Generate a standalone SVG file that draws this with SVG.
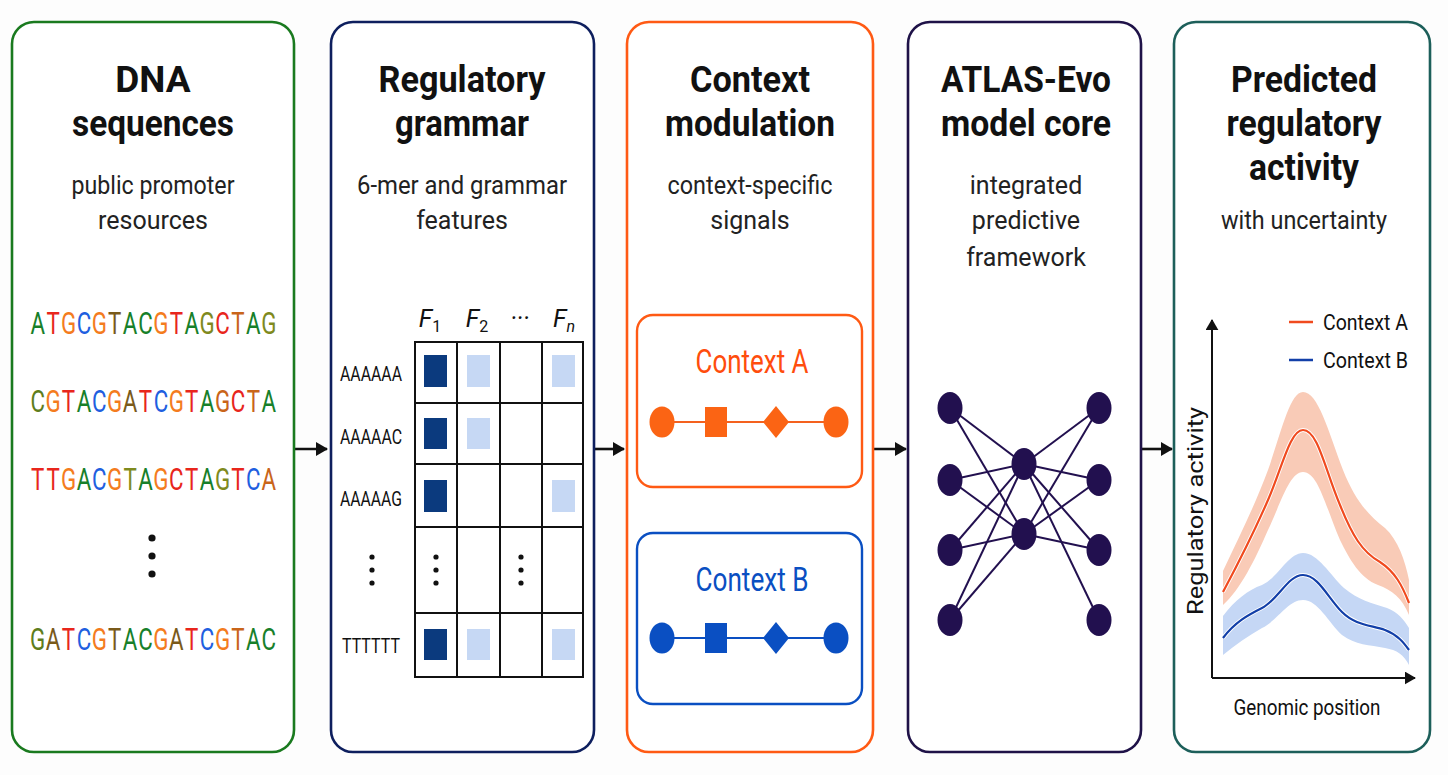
<svg xmlns="http://www.w3.org/2000/svg" width="1448" height="775" viewBox="0 0 1448 775">
<style>
.panel{fill:#fff;stroke-width:2.6}
.title{font-family:Roboto,"Liberation Sans",sans-serif;font-weight:bold;font-size:37px;fill:#111;text-anchor:middle}
.sub{font-family:Roboto,"Liberation Sans",sans-serif;font-size:25px;fill:#222;text-anchor:middle}
.seq{font-family:Roboto,"Liberation Sans",sans-serif;font-size:31px;text-anchor:middle}
.lab{font-family:Roboto,"Liberation Sans",sans-serif;font-size:20px;fill:#111;text-anchor:middle}
.hdr{font-family:Roboto,"Liberation Sans",sans-serif;font-style:italic;font-size:25px;fill:#111;text-anchor:middle}
.cell{fill:#fff;stroke:#111;stroke-width:2}
.dk{fill:#0b3a7e}
.lt{fill:#c6d8f4}
.ctx{font-family:Roboto,"Liberation Sans",sans-serif;font-size:33px;text-anchor:middle}
.nn{fill:#22104f}
.ne{stroke:#22104f;stroke-width:2}
.leg{font-family:Roboto,"Liberation Sans",sans-serif;font-size:22px;fill:#111}
.arr{stroke:#111;stroke-width:2.6}
.g{fill:#17802a}.r{fill:#e8261c}.o{fill:#f47c1e}.b{fill:#1f5fe0}.ol{fill:#7f8a1e}.br{fill:#7a5a1a}.ob{fill:#c9651a}.og{fill:#5e7d1c}
</style>
<defs>
<marker id="ah" viewBox="0 0 12 14" refX="11" refY="7" markerWidth="12" markerHeight="14" markerUnits="userSpaceOnUse" orient="auto">
<path d="M0,0 L12,7 L0,14 Z" fill="#111"/>
</marker>
<marker id="axh" viewBox="0 0 12 14" refX="11" refY="7" markerWidth="11" markerHeight="13" markerUnits="userSpaceOnUse" orient="auto">
<path d="M0,0 L12,7 L0,14 Z" fill="#111"/>
</marker>
</defs>
<rect width="1448" height="775" fill="#fdfdfd"/>

<g id="connectors">
<line class="arr" x1="294" y1="449" x2="327" y2="449" marker-end="url(#ah)"/>
<line class="arr" x1="594" y1="449" x2="624" y2="449" marker-end="url(#ah)"/>
<line class="arr" x1="873" y1="449" x2="906" y2="449" marker-end="url(#ah)"/>
<line class="arr" x1="1141" y1="449" x2="1172" y2="449" marker-end="url(#ah)"/>
</g>

<g id="dna-sequences">
<rect class="panel" x="12" y="22" width="282" height="730" rx="22" stroke="#1a7a1f"/>
<text class="title" x="153" y="92">DNA</text>
<text class="title" x="153" y="136" textLength="162" lengthAdjust="spacingAndGlyphs">sequences</text>
<text class="sub" x="153" y="194" textLength="163" lengthAdjust="spacingAndGlyphs">public promoter</text>
<text class="sub" x="153" y="229">resources</text>
<g transform="translate(30,0) scale(0.72,1)">
<text class="seq" x="10.7 32.1 53.5 74.9 96.3 117.6 139.0 160.4 181.8 203.2 224.6 246.0 267.4 288.8 310.2 331.6" y="334"><tspan class="g">A</tspan><tspan class="r">T</tspan><tspan class="o">G</tspan><tspan class="b">C</tspan><tspan class="o">G</tspan><tspan class="br">T</tspan><tspan class="g">A</tspan><tspan class="g">C</tspan><tspan class="o">G</tspan><tspan class="r">T</tspan><tspan class="g">A</tspan><tspan class="ol">G</tspan><tspan class="r">C</tspan><tspan class="ob">T</tspan><tspan class="g">A</tspan><tspan class="ol">G</tspan></text>
<text class="seq" x="10.7 32.1 53.5 74.9 96.3 117.6 139.0 160.4 181.8 203.2 224.6 246.0 267.4 288.8 310.2 331.6" y="412"><tspan class="og">C</tspan><tspan class="o">G</tspan><tspan class="r">T</tspan><tspan class="g">A</tspan><tspan class="b">C</tspan><tspan class="o">G</tspan><tspan class="br">A</tspan><tspan class="r">T</tspan><tspan class="b">C</tspan><tspan class="o">G</tspan><tspan class="r">T</tspan><tspan class="g">A</tspan><tspan class="ob">G</tspan><tspan class="r">C</tspan><tspan class="ob">T</tspan><tspan class="g">A</tspan></text>
<text class="seq" x="10.7 32.1 53.5 74.9 96.3 117.6 139.0 160.4 181.8 203.2 224.6 246.0 267.4 288.8 310.2 331.6" y="490"><tspan class="r">T</tspan><tspan class="r">T</tspan><tspan class="o">G</tspan><tspan class="g">A</tspan><tspan class="b">C</tspan><tspan class="o">G</tspan><tspan class="ol">T</tspan><tspan class="g">A</tspan><tspan class="o">G</tspan><tspan class="r">C</tspan><tspan class="r">T</tspan><tspan class="g">A</tspan><tspan class="ol">G</tspan><tspan class="r">T</tspan><tspan class="b">C</tspan><tspan class="ob">A</tspan></text>
<text class="seq" x="10.7 32.1 53.5 74.9 96.3 117.6 139.0 160.4 181.8 203.2 224.6 246.0 267.4 288.8 310.2 331.6" y="650"><tspan class="og">G</tspan><tspan class="br">A</tspan><tspan class="r">T</tspan><tspan class="b">C</tspan><tspan class="o">G</tspan><tspan class="br">T</tspan><tspan class="g">A</tspan><tspan class="g">C</tspan><tspan class="o">G</tspan><tspan class="br">A</tspan><tspan class="r">T</tspan><tspan class="b">C</tspan><tspan class="o">G</tspan><tspan class="ob">T</tspan><tspan class="g">A</tspan><tspan class="g">C</tspan></text>
</g>
<circle cx="152" cy="538" r="3.6" fill="#111"/>
<circle cx="152" cy="556" r="3.6" fill="#111"/>
<circle cx="152" cy="574" r="3.6" fill="#111"/>
</g>

<g id="regulatory-grammar">
<rect class="panel" x="331" y="22" width="263" height="730" rx="22" stroke="#0e1f5e"/>
<text class="title" x="462" y="92" textLength="167" lengthAdjust="spacingAndGlyphs">Regulatory</text>
<text class="title" x="462" y="136" textLength="134" lengthAdjust="spacingAndGlyphs">grammar</text>
<text class="sub" x="462" y="194" textLength="210" lengthAdjust="spacingAndGlyphs">6-mer and grammar</text>
<text class="sub" x="462" y="229">features</text>
<text class="hdr" x="430" y="327">F<tspan font-size="16" font-style="normal" dy="5">1</tspan></text>
<text class="hdr" x="477" y="327">F<tspan font-size="16" font-style="normal" dy="5">2</tspan></text>
<text class="hdr" x="520" y="327">···</text>
<text class="hdr" x="564" y="327">F<tspan font-size="16" dy="5">n</tspan></text>
<g>
<rect class="cell" x="415" y="342" width="42" height="61"/><rect class="cell" x="457" y="342" width="43" height="61"/><rect class="cell" x="500" y="342" width="42" height="61"/><rect class="cell" x="542" y="342" width="41" height="61"/>
<rect class="cell" x="415" y="403" width="42" height="61"/><rect class="cell" x="457" y="403" width="43" height="61"/><rect class="cell" x="500" y="403" width="42" height="61"/><rect class="cell" x="542" y="403" width="41" height="61"/>
<rect class="cell" x="415" y="464" width="42" height="63"/><rect class="cell" x="457" y="464" width="43" height="63"/><rect class="cell" x="500" y="464" width="42" height="63"/><rect class="cell" x="542" y="464" width="41" height="63"/>
<rect class="cell" x="415" y="527" width="42" height="86"/><rect class="cell" x="457" y="527" width="43" height="86"/><rect class="cell" x="500" y="527" width="42" height="86"/><rect class="cell" x="542" y="527" width="41" height="86"/>
<rect class="cell" x="415" y="613" width="42" height="64"/><rect class="cell" x="457" y="613" width="43" height="64"/><rect class="cell" x="500" y="613" width="42" height="64"/><rect class="cell" x="542" y="613" width="41" height="64"/>
</g>
<rect class="dk" x="424" y="355" width="23" height="32"/><rect class="lt" x="467" y="355" width="23" height="32"/><rect class="lt" x="552" y="355" width="23" height="32"/>
<rect class="dk" x="424" y="418" width="23" height="31"/><rect class="lt" x="467" y="418" width="23" height="31"/>
<rect class="dk" x="424" y="480" width="23" height="32"/><rect class="lt" x="552" y="480" width="23" height="32"/>
<rect class="dk" x="424" y="629" width="23" height="31"/><rect class="lt" x="467" y="629" width="23" height="31"/><rect class="lt" x="552" y="629" width="23" height="31"/>
<text class="lab" x="371" y="381" textLength="62" lengthAdjust="spacingAndGlyphs">AAAAAA</text>
<text class="lab" x="371" y="444" textLength="62" lengthAdjust="spacingAndGlyphs">AAAAAC</text>
<text class="lab" x="371" y="506" textLength="62" lengthAdjust="spacingAndGlyphs">AAAAAG</text>
<text class="lab" x="371" y="653" textLength="58" lengthAdjust="spacingAndGlyphs">TTTTTT</text>
<g fill="#111">
<circle cx="372" cy="557" r="2.6"/><circle cx="372" cy="570" r="2.6"/><circle cx="372" cy="583" r="2.6"/>
<circle cx="436" cy="557" r="2.6"/><circle cx="436" cy="570" r="2.6"/><circle cx="436" cy="583" r="2.6"/>
<circle cx="521" cy="557" r="2.6"/><circle cx="521" cy="570" r="2.6"/><circle cx="521" cy="583" r="2.6"/>
</g>
</g>

<g id="context-modulation">
<rect class="panel" x="627" y="22" width="246" height="730" rx="22" stroke="#ff5a14"/>
<text class="title" x="750" y="92" textLength="120" lengthAdjust="spacingAndGlyphs">Context</text>
<text class="title" x="750" y="136" textLength="170" lengthAdjust="spacingAndGlyphs">modulation</text>
<text class="sub" x="750" y="194" textLength="165" lengthAdjust="spacingAndGlyphs">context-specific</text>
<text class="sub" x="750" y="229">signals</text>
<rect x="637" y="315" width="225" height="172" rx="16" fill="#fff" stroke="#ff5a14" stroke-width="2.4"/>
<text class="ctx" x="752" y="373" fill="#ff4d0d" textLength="113" lengthAdjust="spacingAndGlyphs">Context A</text>
<line x1="662" y1="422" x2="836" y2="422" stroke="#f4611e" stroke-width="2.2"/>
<ellipse cx="662" cy="422" rx="12.5" ry="15.5" fill="#fb6414"/>
<rect x="705" y="407" width="22" height="30" fill="#fb6414"/>
<path d="M776,406 L789,422 L776,438 L763,422 Z" fill="#fb6414"/>
<ellipse cx="836" cy="422" rx="12.5" ry="15.5" fill="#fb6414"/>
<rect x="637" y="533" width="225" height="171" rx="16" fill="#fff" stroke="#0a4fc2" stroke-width="2.4"/>
<text class="ctx" x="752" y="591" fill="#0a4fc2" textLength="113" lengthAdjust="spacingAndGlyphs">Context B</text>
<line x1="662" y1="638" x2="836" y2="638" stroke="#0a4fc2" stroke-width="2.2"/>
<ellipse cx="662" cy="638" rx="12.5" ry="15.5" fill="#0a4fc2"/>
<rect x="705" y="623" width="22" height="30" fill="#0a4fc2"/>
<path d="M776,622 L789,638 L776,654 L763,638 Z" fill="#0a4fc2"/>
<ellipse cx="836" cy="638" rx="12.5" ry="15.5" fill="#0a4fc2"/>
</g>

<g id="atlas-evo-model-core">
<rect class="panel" x="908" y="22" width="233" height="730" rx="22" stroke="#1f1248"/>
<text class="title" x="1026" y="92" textLength="170" lengthAdjust="spacingAndGlyphs">ATLAS-Evo</text>
<text class="title" x="1026" y="136" textLength="170" lengthAdjust="spacingAndGlyphs">model core</text>
<text class="sub" x="1026" y="194">integrated</text>
<text class="sub" x="1026" y="229">predictive</text>
<text class="sub" x="1026" y="266">framework</text>
<g class="ne">
<line x1="950" y1="408" x2="1024" y2="464"/><line x1="950" y1="408" x2="1024" y2="534"/>
<line x1="950" y1="480" x2="1024" y2="464"/><line x1="950" y1="480" x2="1024" y2="534"/>
<line x1="950" y1="550" x2="1024" y2="464"/><line x1="950" y1="550" x2="1024" y2="534"/>
<line x1="950" y1="620" x2="1024" y2="464"/><line x1="950" y1="620" x2="1024" y2="534"/>
<line x1="1099" y1="408" x2="1024" y2="464"/><line x1="1099" y1="408" x2="1024" y2="534"/>
<line x1="1099" y1="480" x2="1024" y2="464"/><line x1="1099" y1="480" x2="1024" y2="534"/>
<line x1="1099" y1="550" x2="1024" y2="464"/><line x1="1099" y1="550" x2="1024" y2="534"/>
<line x1="1099" y1="620" x2="1024" y2="464"/>
</g>
<g class="nn">
<ellipse cx="950" cy="408" rx="12.5" ry="16"/><ellipse cx="950" cy="480" rx="12.5" ry="16"/><ellipse cx="950" cy="550" rx="12.5" ry="16"/><ellipse cx="950" cy="620" rx="12.5" ry="16"/>
<ellipse cx="1024" cy="464" rx="12.5" ry="16"/><ellipse cx="1024" cy="534" rx="12.5" ry="16"/>
<ellipse cx="1099" cy="408" rx="12.5" ry="16"/><ellipse cx="1099" cy="480" rx="12.5" ry="16"/><ellipse cx="1099" cy="550" rx="12.5" ry="16"/><ellipse cx="1099" cy="620" rx="12.5" ry="16"/>
</g>
</g>

<g id="predicted-regulatory-activity">
<rect class="panel" x="1174" y="22" width="256" height="730" rx="22" stroke="#1d5f5a"/>
<text class="title" x="1304" y="92" textLength="146" lengthAdjust="spacingAndGlyphs">Predicted</text>
<text class="title" x="1304" y="136" textLength="155" lengthAdjust="spacingAndGlyphs">regulatory</text>
<text class="title" x="1304" y="180" textLength="110" lengthAdjust="spacingAndGlyphs">activity</text>
<text class="sub" x="1304" y="229" textLength="166" lengthAdjust="spacingAndGlyphs">with uncertainty</text>
<path d="M1223,571 C1240,535 1255,505 1268,470 C1282,430 1290,392 1303,392 C1318,392 1328,430 1343,470 C1355,500 1368,515 1385,528 C1398,540 1405,560 1409,580 L1409,615 C1402,598 1392,590 1378,585 C1360,578 1350,560 1340,540 C1325,505 1318,472 1303,472 C1290,472 1282,500 1268,530 C1255,560 1240,590 1223,605 Z" fill="#f9cbb7"/>
<path d="M1223,616 C1235,600 1248,590 1262,585 C1278,578 1288,553 1303,553 C1318,553 1330,575 1344,588 C1358,600 1372,603 1387,608 C1398,612 1404,620 1409,628 L1409,665 C1404,655 1397,650 1385,648 C1370,645 1355,645 1342,635 C1328,622 1318,600 1303,600 C1288,600 1278,620 1262,628 C1248,636 1235,645 1223,655 Z" fill="#c5d7f5"/>
<path d="M1223,592 C1240,560 1255,530 1268,500 C1282,468 1290,430 1303,430 C1318,430 1325,470 1340,505 C1352,535 1362,552 1380,562 C1395,572 1402,585 1409,603" fill="none" stroke="#fff" stroke-width="4"/>
<path d="M1223,592 C1240,560 1255,530 1268,500 C1282,468 1290,430 1303,430 C1318,430 1325,470 1340,505 C1352,535 1362,552 1380,562 C1395,572 1402,585 1409,603" fill="none" stroke="#f04a1e" stroke-width="2.2"/>
<path d="M1223,638 C1235,622 1248,615 1262,608 C1278,600 1288,575 1303,575 C1318,575 1328,598 1342,612 C1355,625 1370,625 1385,630 C1398,635 1404,643 1409,650" fill="none" stroke="#fff" stroke-width="4"/>
<path d="M1223,638 C1235,622 1248,615 1262,608 C1278,600 1288,575 1303,575 C1318,575 1328,598 1342,612 C1355,625 1370,625 1385,630 C1398,635 1404,643 1409,650" fill="none" stroke="#123fa8" stroke-width="2.2"/>
<line x1="1212" y1="678" x2="1212" y2="320" stroke="#111" stroke-width="2" marker-end="url(#axh)"/>
<line x1="1212" y1="678" x2="1415" y2="678" stroke="#111" stroke-width="2" marker-end="url(#axh)"/>
<line x1="1289" y1="322" x2="1313" y2="322" stroke="#f04a1e" stroke-width="2.5"/>
<text class="leg" x="1323" y="330" textLength="85" lengthAdjust="spacingAndGlyphs">Context A</text>
<line x1="1289" y1="360" x2="1313" y2="360" stroke="#123fa8" stroke-width="2.5"/>
<text class="leg" x="1323" y="368" textLength="85" lengthAdjust="spacingAndGlyphs">Context B</text>
<text class="leg" x="0" y="0" text-anchor="middle" transform="translate(1203,511) rotate(-90)" textLength="208" lengthAdjust="spacingAndGlyphs">Regulatory activity</text>
<text class="leg" x="1307" y="715" text-anchor="middle" textLength="147" lengthAdjust="spacingAndGlyphs">Genomic position</text>
</g>
</svg>
